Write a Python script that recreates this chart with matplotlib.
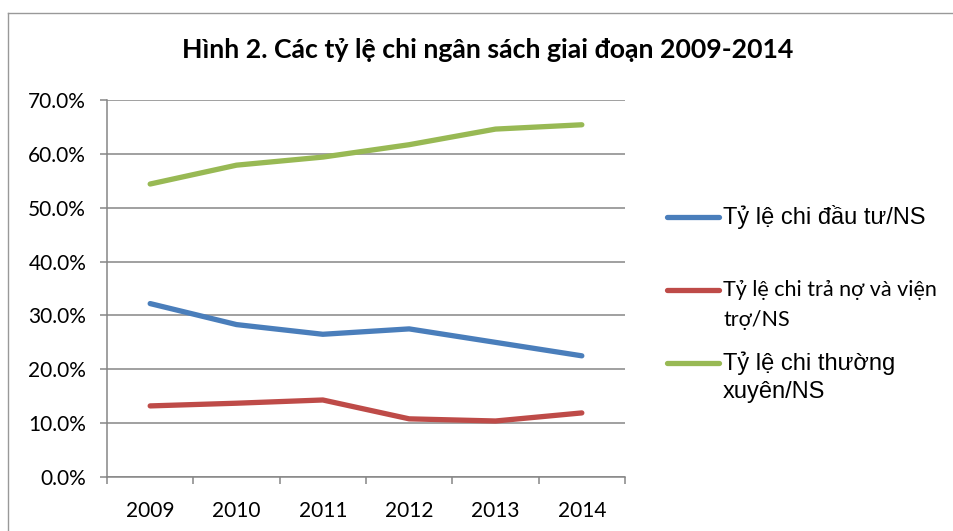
import matplotlib
matplotlib.use("Agg")
import matplotlib.pyplot as plt
from matplotlib.lines import Line2D
from matplotlib.ticker import FuncFormatter, FixedLocator

years = ["2009", "2010", "2011", "2012", "2013", "2014"]
dau_tu = [32.2, 28.3, 26.5, 27.5, 25.0, 22.5]
tra_no = [13.2, 13.7, 14.3, 10.8, 10.4, 11.9]
thuong_xuyen = [54.4, 57.9, 59.4, 61.7, 64.6, 65.4]

series_labels = ["Tỷ lệ chi đầu tư/NS", "Tỷ lệ chi trả nợ và viện\ntrợ/NS", "Tỷ lệ chi thường\nxuyên/NS"]
series_colors = ["#4A7EBB", "#BE4B48", "#98B954"]
title = "Hình 2. Các tỷ lệ chi ngân sách giai đoạn 2009-2014"

W, H = 954, 531
fig = plt.figure(figsize=(W / 100, H / 100), dpi=100)
ax = fig.add_axes([107 / W, 1 - 477 / H, (625 - 107) / W, (477 - 100) / H])

x = list(range(len(years)))
for vals, c in zip([dau_tu, tra_no, thuong_xuyen], series_colors):
    ax.plot(x, vals, color=c, lw=3.8, solid_capstyle="round", solid_joinstyle="round", zorder=3)

gray = "#868686"
ax.set_ylim(0, 70)
ax.set_yticks(range(0, 71, 10))
ax.yaxis.set_major_formatter(FuncFormatter(lambda v, p: f"{v:.1f}%"))
ax.grid(axis="y", color=gray, lw=1.1)
ax.set_axisbelow(True)

ax.set_xlim(-0.5, len(years) - 0.5)
ax.xaxis.set_major_locator(FixedLocator([i - 0.5 for i in range(len(years) + 1)]))
ax.xaxis.set_minor_locator(FixedLocator(x))
ax.set_xticklabels([], minor=False)
ax.set_xticklabels(years, minor=True)
ax.tick_params(axis="x", which="major", length=5, width=1.1, color=gray, direction="out")
ax.tick_params(axis="x", which="minor", length=0, pad=17)
ax.tick_params(axis="y", length=5, width=1.1, color=gray, pad=10)
for lab in ax.get_xticklabels(minor=True) + ax.get_yticklabels():
    lab.set_fontfamily("Lato")
    lab.set_fontsize(15)
    lab.set_color("#000000")

for s in ["top", "right"]:
    ax.spines[s].set_visible(False)
for s in ["left", "bottom"]:
    ax.spines[s].set_color(gray)
    ax.spines[s].set_linewidth(1.1)

fig.text(488 / W, 1 - 50 / H, title, ha="center", va="center",
         fontfamily="Lato", fontweight="bold", fontsize=19.2)

# chart border (partially cropped in reference)
fig.add_artist(Line2D([8.5 / W, 8.5 / W], [0, 1 - 13 / H], transform=fig.transFigure, color="#999999", lw=1))
fig.add_artist(Line2D([8.5 / W, 1], [1 - 13 / H, 1 - 13 / H], transform=fig.transFigure, color="#999999", lw=1))

# legend
legend_y = [217, 290, 363]
legend_fonts = [("Liberation Sans", 17, 12, 1.2), ("Lato", 15.5, 10, 1.65), ("Liberation Sans", 17, 12, 1.4)]
for lab, c, yy, (fam, fs, off, ls) in zip(series_labels, series_colors, legend_y, legend_fonts):
    fy = 1 - yy / H
    fig.add_artist(Line2D([667 / W, 719 / W], [fy, fy], transform=fig.transFigure,
                          color=c, lw=3.8, solid_capstyle="round"))
    fig.text(723 / W, fy + off / H, lab, ha="left", va="top", fontfamily=fam,
             fontsize=fs, linespacing=ls)

fig.savefig("out.png", dpi=100)
